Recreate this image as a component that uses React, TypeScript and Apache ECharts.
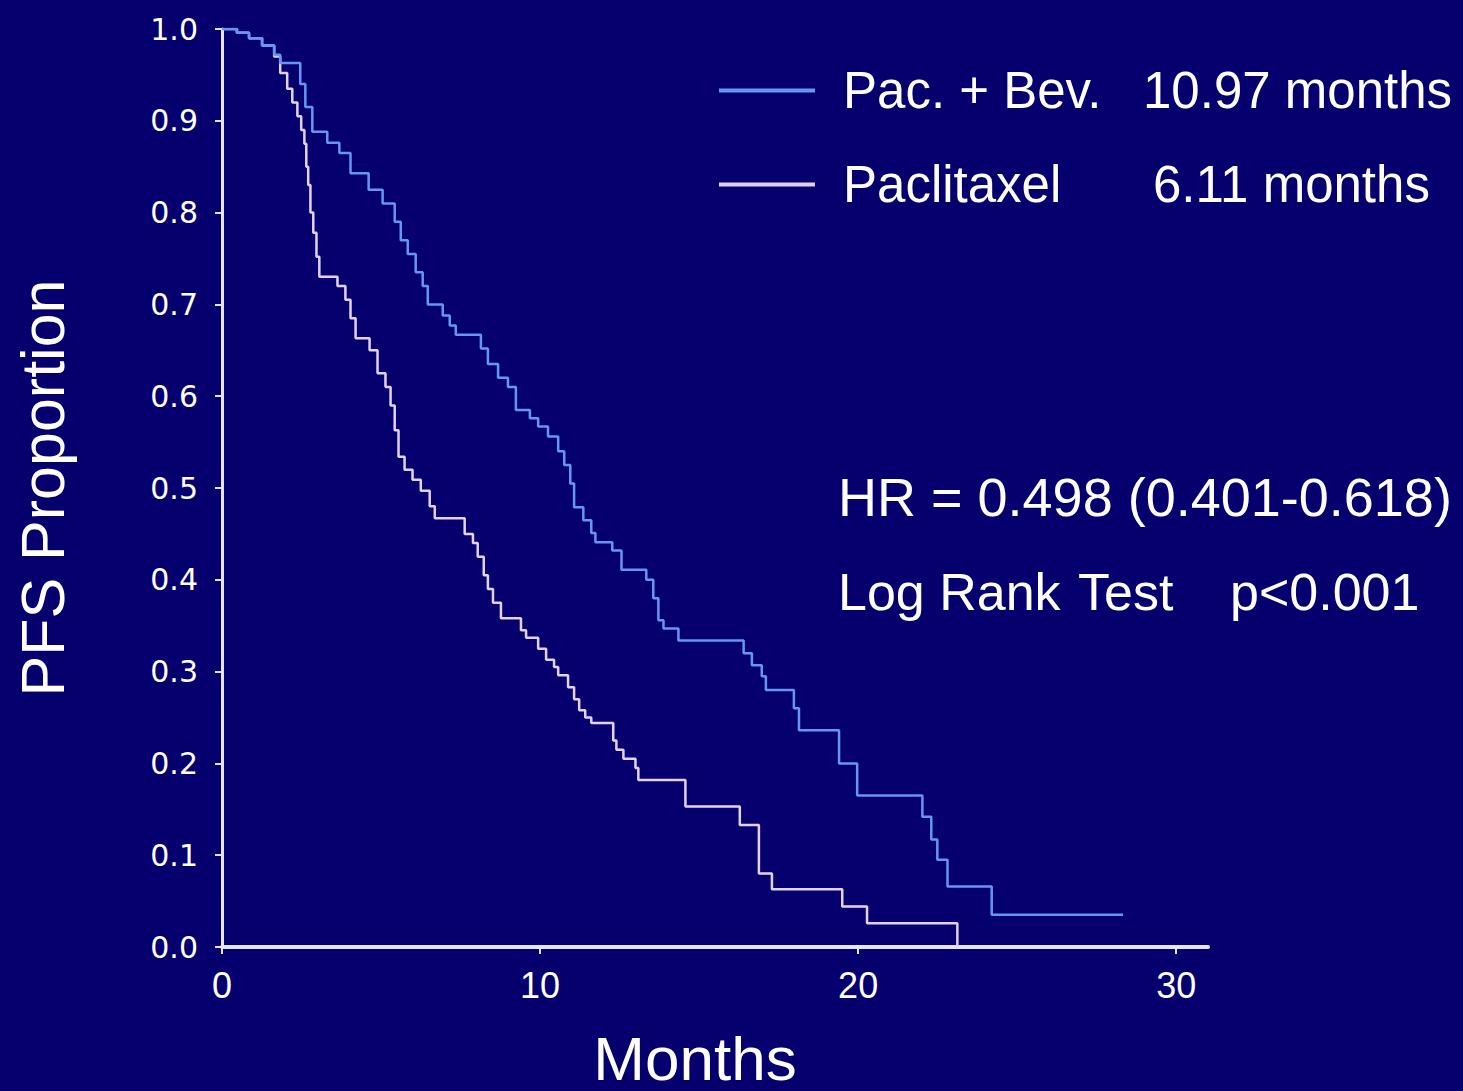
import React, { useEffect, useRef } from "react";
import * as echarts from "echarts";

// Kaplan-Meier steps (months, PFS proportion after the event)
const bevTimes = [0, 0.47, 0.85, 1.26, 1.64, 1.83, 2.46, 2.62, 2.84, 3.31, 3.69, 4.04, 4.61, 5.05, 5.43, 5.62, 5.84, 6.09, 6.31, 6.47, 6.94, 7.16, 7.35, 8.14, 8.36, 8.68, 8.99, 9.24, 9.68, 9.94, 10.25, 10.57, 10.76, 10.95, 11.07, 11.36, 11.61, 11.74, 12.27, 12.56, 13.34, 13.56, 13.72, 13.88, 14.35, 16.4, 16.66, 16.97, 17.1, 17.98, 18.14, 19.4, 19.97, 22.02, 22.3, 22.49, 22.81, 24.2, 28.33];
const bevSurv = [1.0, 0.996, 0.99, 0.982, 0.972, 0.963, 0.94, 0.915, 0.888, 0.876, 0.865, 0.843, 0.825, 0.81, 0.79, 0.77, 0.755, 0.735, 0.72, 0.7, 0.688, 0.677, 0.667, 0.652, 0.635, 0.62, 0.61, 0.585, 0.576, 0.567, 0.556, 0.54, 0.525, 0.505, 0.479, 0.465, 0.451, 0.441, 0.432, 0.411, 0.4, 0.38, 0.356, 0.347, 0.334, 0.32, 0.307, 0.295, 0.28, 0.26, 0.236, 0.2, 0.165, 0.142, 0.117, 0.095, 0.066, 0.035, 0.035];

const pacTimes = [0, 0.47, 0.85, 1.26, 1.64, 1.83, 2.05, 2.21, 2.37, 2.49, 2.59, 2.65, 2.71, 2.78, 2.87, 2.97, 3.06, 3.63, 3.88, 4.04, 4.2, 4.64, 4.89, 5.14, 5.3, 5.43, 5.55, 5.74, 5.99, 6.25, 6.53, 6.69, 7.63, 7.89, 8.04, 8.23, 8.36, 8.52, 8.77, 9.4, 9.56, 9.94, 10.19, 10.44, 10.57, 10.88, 11.07, 11.23, 11.42, 11.61, 12.3, 12.4, 12.62, 13.0, 13.09, 14.57, 16.28, 16.88, 17.29, 19.5, 20.28, 23.12];
const pacSurv = [1.0, 0.996, 0.99, 0.982, 0.97, 0.952, 0.935, 0.92, 0.905, 0.89, 0.875, 0.85, 0.83, 0.8, 0.778, 0.752, 0.73, 0.72, 0.705, 0.685, 0.663, 0.65, 0.625, 0.61, 0.59, 0.563, 0.534, 0.52, 0.509, 0.497, 0.48, 0.467, 0.45, 0.44, 0.425, 0.405, 0.39, 0.375, 0.358, 0.345, 0.337, 0.325, 0.313, 0.305, 0.296, 0.283, 0.27, 0.258, 0.25, 0.244, 0.225, 0.215, 0.205, 0.195, 0.182, 0.153, 0.133, 0.08, 0.063, 0.044, 0.026, 0.0];

const xTicks = [0, 10, 20, 30];
const seriesNames = ["Pac. + Bev.", "Paclitaxel"];
const medians = ["10.97 months", "6.11 months"];
const statLines = ["HR = 0.498 (0.401-0.618)", "Log Rank", "Test", "p<0.001"];

const BG = "#06006f";
const BLUE = "#6497f2";
const PINK = "#e4d2f6";
const AXIS = "#e6e4fb";
const FONT = "'Liberation Sans', Arial, sans-serif";

export default function App() {
  const ref = useRef<HTMLDivElement>(null);
  useEffect(() => {
    if (!ref.current) return;
    const chart = echarts.init(ref.current, undefined, { renderer: "svg" });
    const bevData = bevTimes.map((t, i) => [t, bevSurv[i]]);
    const pacData = pacTimes.map((t, i) => [t, pacSurv[i]]);
    chart.setOption({
      animation: false,
      backgroundColor: BG,
      grid: {
        left: 222,
        top: 29,
        width: 986,
        height: 918,
        containLabel: false,
        outerBoundsMode: "none",
      },
      xAxis: {
        type: "value",
        min: 0,
        max: 31,
        interval: 10,
        name: "Months",
        nameLocation: "middle",
        nameGap: 80,
        nameTextStyle: {
          color: "#ffffff",
          fontSize: 62,
          lineHeight: 62,
          fontFamily: FONT,
          padding: [0, 40, 0, 0],
        },
        axisLine: { show: true, onZero: false, lineStyle: { color: AXIS, width: 4 } },
        axisTick: { show: true, length: 7, customValues: xTicks, lineStyle: { color: AXIS, width: 2 } },
        axisLabel: {
          customValues: xTicks,
          color: "#ffffff",
          fontSize: 36,
          fontFamily: FONT,
          margin: 20,
        },
        splitLine: { show: false },
      },
      yAxis: {
        type: "value",
        min: 0,
        max: 1,
        interval: 0.1,
        name: "PFS Proportion",
        nameLocation: "middle",
        nameRotate: 90,
        nameGap: 149,
        nameTextStyle: { color: "#ffffff", fontSize: 61, fontFamily: FONT },
        axisLine: { show: true, lineStyle: { color: AXIS, width: 3 } },
        axisTick: { show: true, length: 7, lineStyle: { color: AXIS, width: 2 } },
        axisLabel: {
          color: "#ffffff",
          fontSize: 30,
          fontFamily: "'DejaVu Sans', Verdana, sans-serif",
          margin: 24,
          formatter: (v: number) => v.toFixed(1),
        },
        splitLine: { show: false },
      },
      legend: {
        orient: "vertical",
        left: 714,
        top: 60,
        itemWidth: 96,
        itemHeight: 4,
        itemGap: 43,
        icon: "rect",
        selectedMode: false,
        data: seriesNames,
        formatter: (name: string) =>
          name === seriesNames[0]
            ? `{g| }{a|${name}}{b|${medians[0]}}`
            : `{g| }{c|${name}}{b|${medians[1]}}`,
        textStyle: {
          color: "#ffffff",
          fontFamily: FONT,
          fontSize: 51,
          rich: {
            g: { width: 23, fontSize: 51, lineHeight: 60 },
            a: { width: 300, fontSize: 51, lineHeight: 60, color: "#ffffff", fontFamily: FONT },
            c: { width: 310, fontSize: 51, lineHeight: 60, color: "#ffffff", fontFamily: FONT },
            b: { fontSize: 51, lineHeight: 60, color: "#ffffff", fontFamily: FONT },
          },
        },
      },
      graphic: [
        {
          type: "text",
          left: 838,
          top: 470,
          style: { text: statLines[0], fill: "#ffffff", fontSize: 54, fontFamily: FONT },
        },
        {
          type: "text",
          left: 838,
          top: 566,
          style: { text: statLines[1], fill: "#ffffff", fontSize: 52, fontFamily: FONT },
        },
        {
          type: "text",
          left: 1078,
          top: 566,
          style: { text: statLines[2], fill: "#ffffff", fontSize: 52, fontFamily: FONT },
        },
        {
          type: "text",
          left: 1230,
          top: 566,
          style: { text: statLines[3], fill: "#ffffff", fontSize: 52, fontFamily: FONT },
        },
      ],
      series: [
        {
          name: seriesNames[0],
          type: "line",
          step: "end",
          data: bevData,
          showSymbol: false,
          symbol: "none",
          lineStyle: { color: BLUE, width: 2.5 },
          itemStyle: { color: BLUE },
          z: 3,
        },
        {
          name: seriesNames[1],
          type: "line",
          step: "end",
          data: pacData,
          showSymbol: false,
          symbol: "none",
          lineStyle: { color: PINK, width: 2.5 },
          itemStyle: { color: PINK },
          z: 2,
        },
      ],
    });
    return () => chart.dispose();
  }, []);
  return (
    <div
      ref={ref}
      style={{ position: "absolute", left: 0, top: 0, width: 1463, height: 1091, background: BG }}
    />
  );
}
